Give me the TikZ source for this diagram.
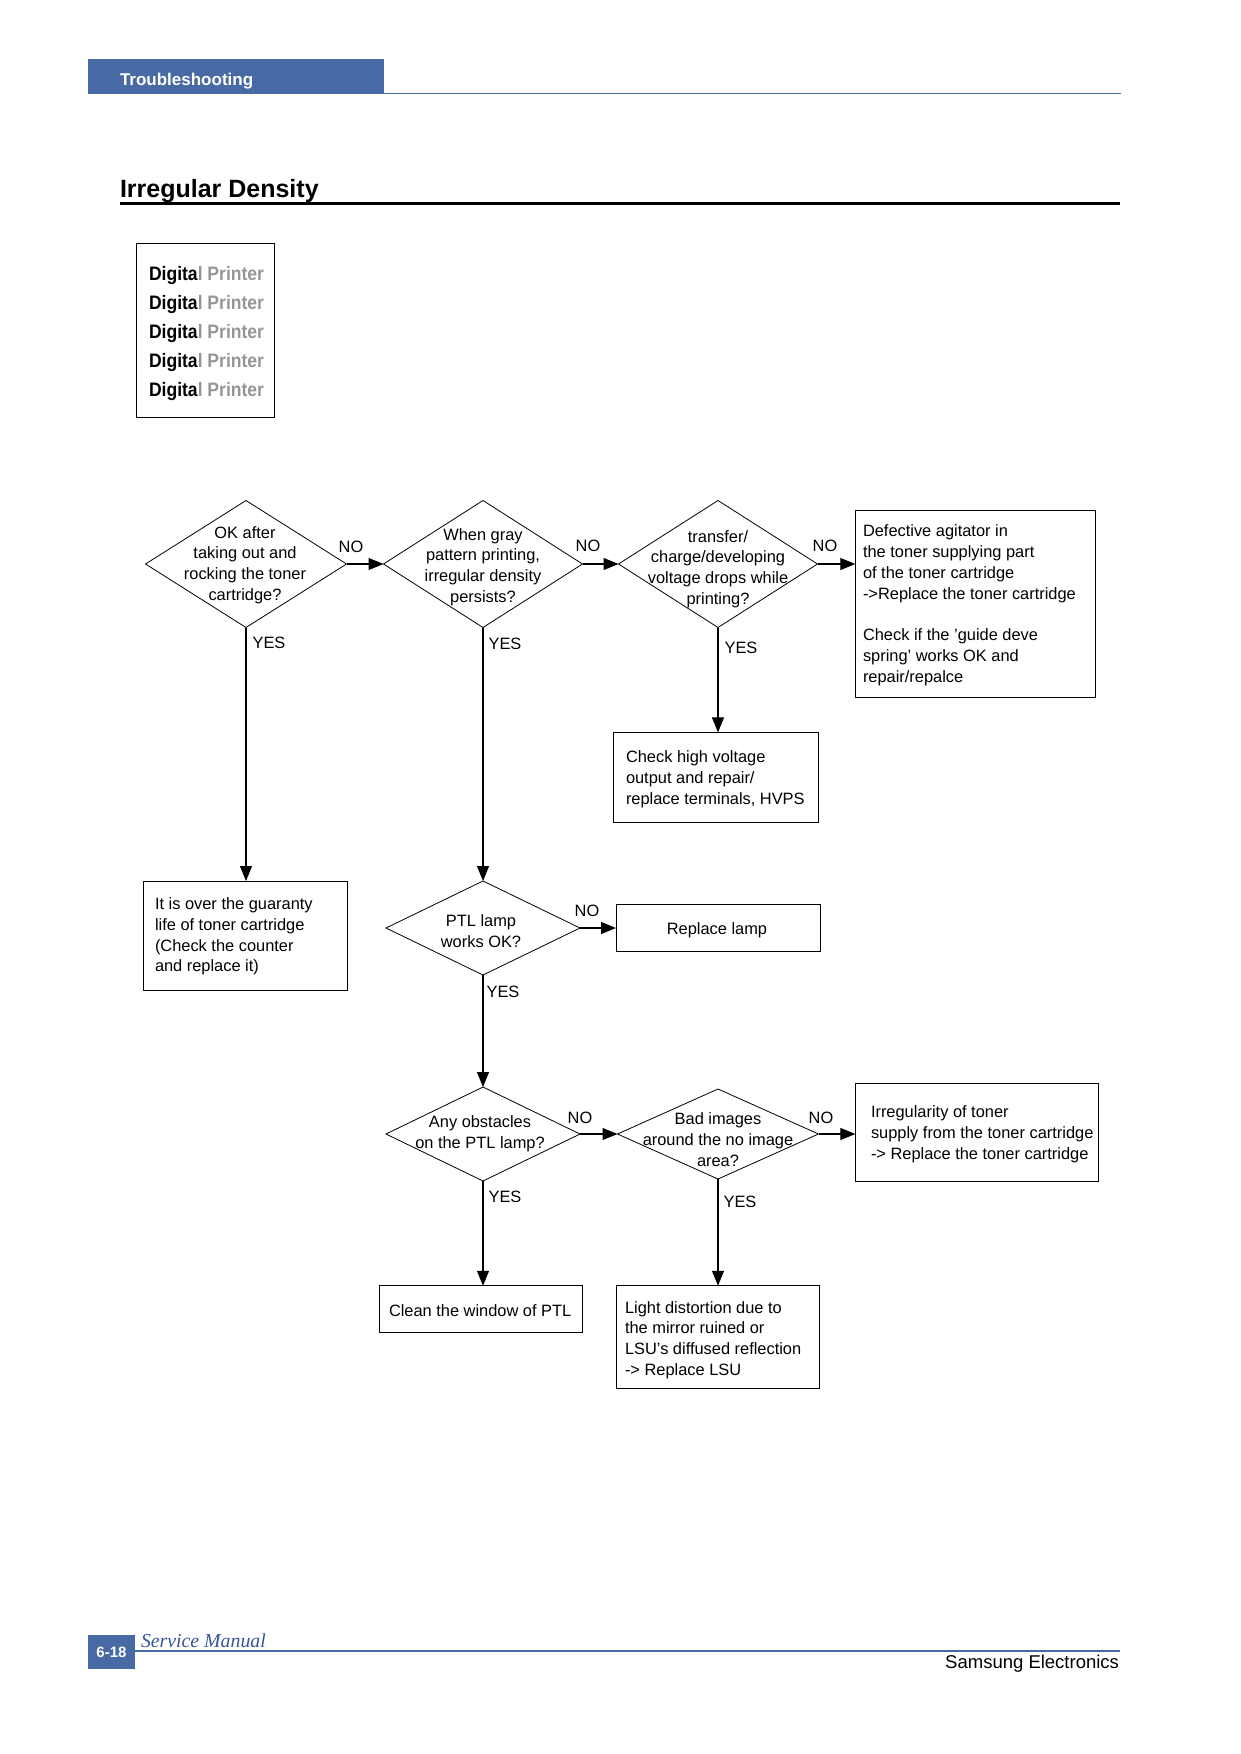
\documentclass[tikz,border=0pt]{standalone}
\usepackage{fontspec}
\setmainfont{Liberation Sans}
\newfontfamily\dpfont[FakeStretch=0.9]{Liberation Sans}
\newfontfamily\serifit{Liberation Serif}
\usetikzlibrary{shapes.geometric,arrows.meta}
\definecolor{hdrblue}{RGB}{72,106,164}
\definecolor{smblue}{RGB}{55,85,155}
\definecolor{dpgray}{RGB}{150,150,150}
\begin{document}
\begin{tikzpicture}[x=1pt,y=-1pt,
  every node/.style={inner sep=0pt, outer sep=0pt},
  dia/.style={draw, shape=diamond, line width=0.8pt},
  box/.style={draw, rectangle, line width=1pt},
  txt/.style={font=\fontsize{16.4}{20.8}\selectfont, align=left, anchor=west},
  ctxt/.style={font=\fontsize{16.4}{20.8}\selectfont, align=center},
  lab/.style={font=\fontsize{16.4}{19}\selectfont},
  arr/.style={line width=1.1pt, -{Triangle[length=15pt,width=12pt]}}]
\useasboundingbox (0,0) rectangle (1240,1754);
\fill[white] (0,0) rectangle (1240,1754);

% header
\fill[hdrblue] (88,59) rectangle (384,94);
\draw[hdrblue, line width=1.2pt] (384,93.4) -- (1121,93.4);
\node[anchor=west, text=white, font=\bfseries\fontsize{17}{18}\selectfont] (ts) at (120,81) {Troubleshooting};

% title
\node[anchor=base west, font=\bfseries\fontsize{25}{28}\selectfont] (title) at (120,197) {Irregular Density};
\draw[line width=2.2pt] (120,203.5) -- (1120,203.5);

% digital printer sample
\node[box, minimum width=138pt, minimum height=174pt] (dp) at (205,330) {};
\node[anchor=west, align=left, font=\dpfont\bfseries\fontsize{19.5}{29}\selectfont] (dpt) at (149,333)
 {Digita\textcolor{dpgray}{l Printer}\\Digita\textcolor{dpgray}{l Printer}\\Digita\textcolor{dpgray}{l Printer}\\Digita\textcolor{dpgray}{l Printer}\\Digita\textcolor{dpgray}{l Printer}};

% diamonds
\node[dia, minimum width=201pt, minimum height=127pt] (d1) at (246,564) {};
\node[dia, minimum width=199pt, minimum height=127pt] (d2) at (483,564) {};
\node[dia, minimum width=199pt, minimum height=127pt] (d3) at (718,564) {};
\node[dia, minimum width=194pt, minimum height=94pt] (d4) at (483,928) {};
\node[dia, minimum width=194pt, minimum height=94pt] (d5) at (483,1134) {};
\node[dia, minimum width=201pt, minimum height=90pt] (d6) at (718,1134) {};

\node[ctxt] (d1t) at (245,565) {OK after\\taking out and\\rocking the toner\\cartridge?};
\node[ctxt] (d2t) at (483,567) {When gray\\pattern printing,\\irregular density\\persists?};
\node[ctxt] (d3t) at (718,569) {transfer/\\charge/developing\\voltage drops while\\printing?};
\node[ctxt] (d4t) at (481,931) {PTL lamp\\works OK?};
\node[ctxt] (d5t) at (480,1134) {Any obstacles\\on the PTL lamp?};
\node[ctxt] (d6t) at (718,1139.5) {Bad images\\around the no image\\area?};

% boxes
\node[box, minimum width=204pt, minimum height=109pt] (bl) at (245,935.5) {};
\node[box, minimum width=204.6pt, minimum height=90.5pt] (hv) at (716,777.6) {};
\node[box, minimum width=204pt, minimum height=47pt] (rl) at (718,928) {};
\node[box, minimum width=240.4pt, minimum height=186.7pt] (r1) at (975.5,604.3) {};
\node[box, minimum width=242.7pt, minimum height=98.4pt] (r2) at (976.7,1132.6) {};
\node[box, minimum width=203.5pt, minimum height=47pt] (cl) at (480.8,1309.3) {};
\node[box, minimum width=203.6pt, minimum height=102.9pt] (li) at (717.8,1337.2) {};

\node[txt] (blt) at (155,936.5) {It is over the guaranty\\life of toner cartridge\\(Check the counter\\and replace it)};
\node[txt] (hvt) at (626,779.5) {Check high voltage\\output and repair/\\replace terminals, HVPS};
\node[ctxt] (rlt) at (717,930) {Replace lamp};
\node[txt] (r1t) at (863,605.5) {Defective agitator in\\the toner supplying part\\of the toner cartridge\\->Replace the toner cartridge\\[20.8pt]Check if the 'guide deve\\spring' works OK and\\repair/repalce};
\node[txt] (r2t) at (871,1134) {Irregularity of toner\\supply from the toner cartridge\\-> Replace the toner cartridge};
\node[txt] (clt) at (389,1311) {Clean the window of PTL};
\node[txt] (lit) at (625,1340) {Light distortion due to\\the mirror ruined or\\LSU's diffused reflection\\-> Replace LSU};

% connectors
\draw[arr] (d1.east) -- (d2.west);
\draw[arr] (d2.east) -- (d3.west);
\draw[arr] (d3.east) -- (d3.east -| r1.west);
\draw[arr] (d1.south) -- (d1.south |- bl.north);
\draw[arr] (d2.south) -- (d4.north);
\draw[arr] (d3.south) -- (d3.south |- hv.north);
\draw[arr] (d4.east) -- (d4.east -| rl.west);
\draw[arr] (d4.south) -- (d5.north);
\draw[arr] (d5.east) -- (d6.west);
\draw[arr] (d6.east) -- (d6.east -| r2.west);
\draw[arr] (d5.south) -- (d5.south |- cl.north);
\draw[arr] (d6.south) -- (d6.south |- li.north);

% labels
\node[lab] (no1) at (351,547) {NO};
\node[lab] (no2) at (588,546) {NO};
\node[lab] (no3) at (825,546) {NO};
\node[lab] (yes1) at (269,643) {YES};
\node[lab] (yes2) at (505,644) {YES};
\node[lab] (yes3) at (741,648) {YES};
\node[lab] (no4) at (587,911) {NO};
\node[lab] (yes4) at (503,992) {YES};
\node[lab] (no5) at (580,1118) {NO};
\node[lab] (no6) at (821,1118) {NO};
\node[lab] (yes5) at (505,1197) {YES};
\node[lab] (yes6) at (740,1202) {YES};

% footer
\fill[hdrblue] (88,1635) rectangle (135,1669);
\draw[hdrblue, line width=1.2pt] (135,1651) -- (1120,1651);
\node[text=white, font=\bfseries\fontsize{15}{16}\selectfont] (pg) at (111.5,1652) {6-18};
\node[anchor=west, text=smblue, font=\serifit\itshape\fontsize{19.8}{20}\selectfont] (sm) at (141,1641) {Service Manual};
\node[anchor=east, font=\fontsize{18.5}{20}\selectfont] (se) at (1119,1664) {Samsung Electronics};
\end{tikzpicture}
\end{document}
